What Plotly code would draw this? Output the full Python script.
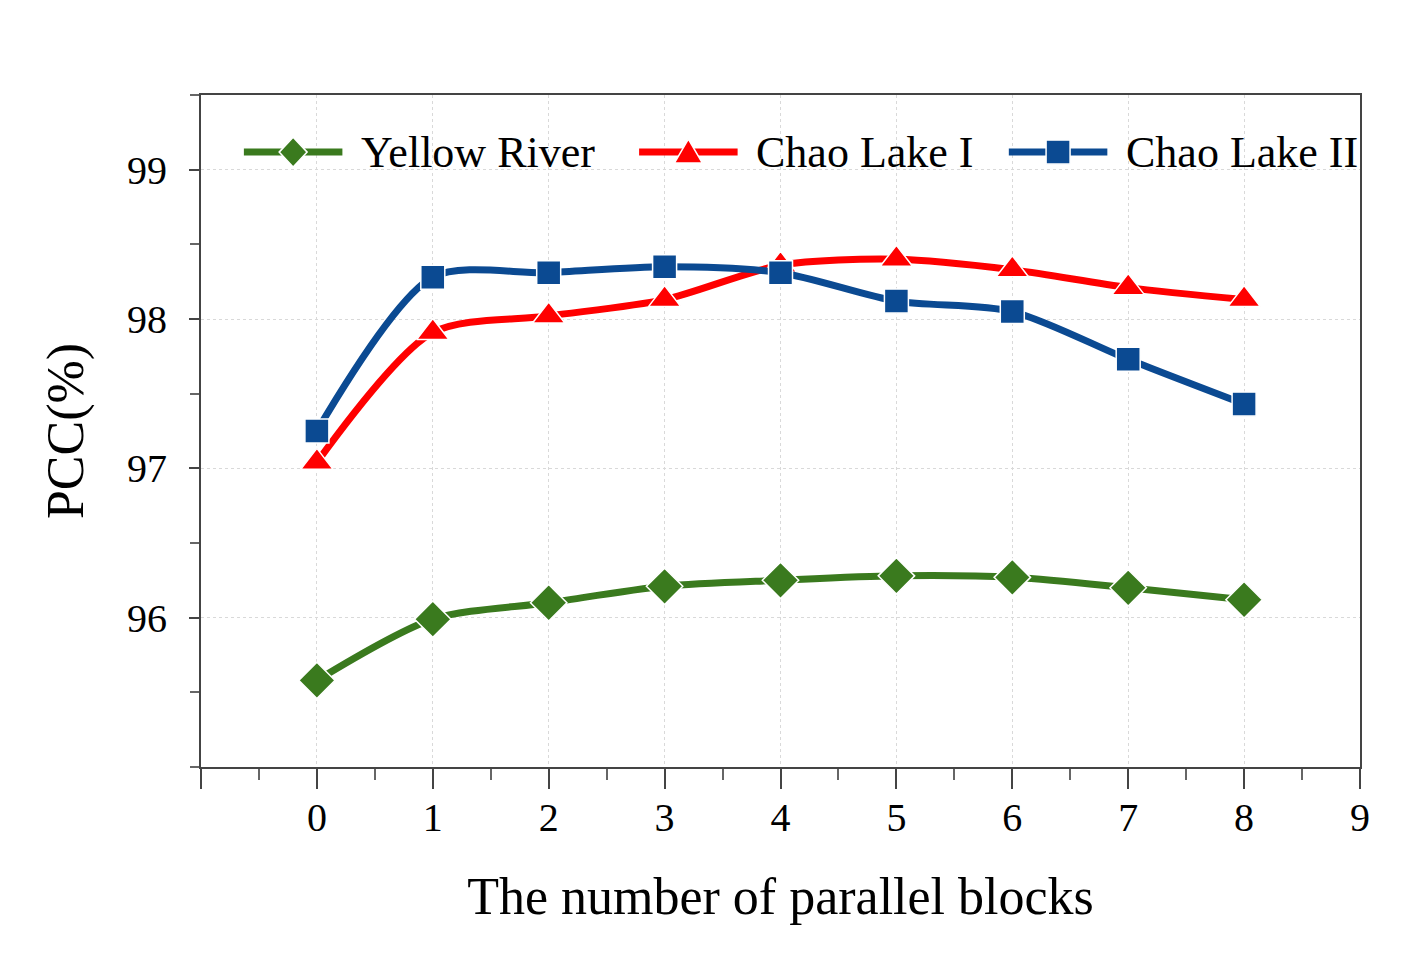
import plotly.graph_objects as go

# data
blocks = [0, 1, 2, 3, 4, 5, 6, 7, 8]
yellow_river = [95.58, 95.99, 96.10, 96.21, 96.25, 96.28, 96.27, 96.20, 96.12]
chao_lake_1 = [97.04, 97.91, 98.02, 98.13, 98.36, 98.40, 98.33, 98.21, 98.13]
chao_lake_2 = [97.25, 98.28, 98.31, 98.35, 98.31, 98.12, 98.05, 97.73, 97.43]

series_names = ["Yellow River", "Chao Lake I", "Chao Lake II"]
x_ticks = [-1, 0, 1, 2, 3, 4, 5, 6, 7, 8, 9]
y_ticks = [96, 97, 98, 99]

font_family = "Liberation Serif, Times New Roman, serif"

fig = go.Figure()

styles = [
    (yellow_river, "#3a7a1e", "diamond", 28),
    (chao_lake_1, "#ff0000", "triangle-up", 28),
    (chao_lake_2, "#0b4a92", "square", 24),
]

for name, (vals, color, symbol, msize) in zip(series_names, styles):
    fig.add_trace(go.Scatter(
        x=blocks, y=vals, name=name,
        mode="lines+markers",
        line=dict(color=color, width=7, shape="spline", smoothing=0.8),
        marker=dict(symbol=symbol, size=msize, color=color,
                    line=dict(color="white", width=1.5)),
        showlegend=False,
    ))

# hand-drawn legend inside the plot (long line + big marker like the original)
# pixel paths: y points up here
marker_paths = {
    "diamond": "M0,15 L14,0 L0,-15 L-14,0 Z",
    "triangle-up": "M0,13 L14,-11 L-14,-11 Z",
    "square": "M-12,-12 L12,-12 L12,12 L-12,12 Z",
}
legend_y = 0.915
legend_x = [0.037, 0.378, 0.697]   # left end of each legend line (paper)
line_len = 0.085
for name, (vals, color, symbol, msize), lx in zip(series_names, styles, legend_x):
    fig.add_shape(type="line", xref="paper", yref="paper",
                  x0=lx, x1=lx + line_len, y0=legend_y, y1=legend_y,
                  line=dict(color=color, width=7), layer="above")
    fig.add_shape(type="path", xref="paper", yref="paper",
                  xsizemode="pixel", ysizemode="pixel",
                  xanchor=lx + line_len / 2, yanchor=legend_y,
                  path=marker_paths[symbol],
                  fillcolor=color, line=dict(color="white", width=1.5),
                  layer="above")
    fig.add_annotation(x=lx + line_len + 0.014, y=legend_y, xref="paper", yref="paper",
                       xanchor="left", yanchor="middle", text=name, showarrow=False,
                       font=dict(size=44, family=font_family, color="black"))

fig.update_layout(
    width=1418, height=975,
    margin=dict(l=193, r=66, t=87, b=216),
    plot_bgcolor="white",
    paper_bgcolor="white",
    font=dict(family=font_family, color="black"),
    showlegend=False,
)

fig.update_xaxes(
    range=[-1, 9],
    tickvals=x_ticks,
    ticktext=["" if v == -1 else str(v) for v in x_ticks],
    ticks="outside", ticklen=20, tickwidth=1.5, tickcolor="#444",
    tickfont=dict(size=40), ticklabelstandoff=-6,
    minor=dict(dtick=0.5, tick0=-1, ticks="outside", ticklen=11,
               tickwidth=1.5, tickcolor="#666", showgrid=False),
    showline=True, linecolor="#444", linewidth=2, mirror=True,
    showgrid=True, gridcolor="#d9d9d9", griddash="dot", gridwidth=1,
    zeroline=False,
    title=dict(text="The number of parallel blocks", font=dict(size=52), standoff=39),
)

fig.update_yaxes(
    range=[95, 99.5],
    tickvals=y_ticks,
    ticks="outside", ticklen=10, tickwidth=1.5, tickcolor="#444",
    tickfont=dict(size=40), ticklabelstandoff=14,
    minor=dict(dtick=0.5, tick0=95, ticks="outside", ticklen=9,
               tickwidth=1.5, tickcolor="#666", showgrid=False),
    showline=True, linecolor="#444", linewidth=2, mirror=True,
    showgrid=True, gridcolor="#d9d9d9", griddash="dot", gridwidth=1,
    zeroline=False,
    title=dict(text="PCC(%)", font=dict(size=52), standoff=27),
)

fig.write_html("out.html")
